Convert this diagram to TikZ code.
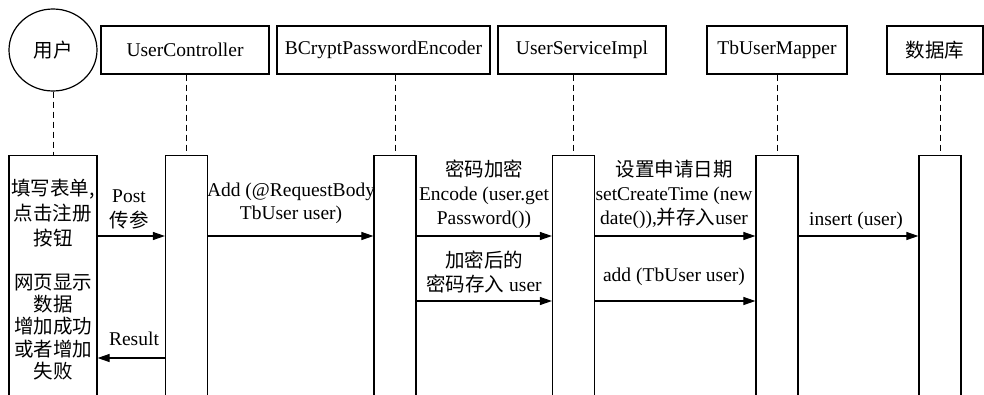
\documentclass[tikz,border=0pt]{standalone}
\usepackage{fontspec}
\setmainfont{Liberation Serif}
\newfontfamily\cjk{Noto Sans CJK SC}
\newcommand\zh[1]{{\cjk #1}}
\usetikzlibrary{arrows.meta,shapes.geometric}
\begin{document}
\begin{tikzpicture}[x=1pt,y=-1pt,
  every node/.style={font=\fontsize{19.5}{24}\selectfont},
  hdr/.style={draw, line width=1.2pt, minimum height=48pt, inner sep=0pt},
  act/.style={draw, line width=1.2pt, anchor=north, minimum width=42pt, minimum height=260pt, inner sep=0pt},
  life/.style={line width=1pt, dash pattern=on 6pt off 4pt},
  msg/.style={line width=1.1pt, -{Triangle[length=12pt,width=8pt]}},
  lbl/.style={align=center, inner sep=0pt}
]
\path[use as bounding box, clip] (0,0) rectangle (984,394);

% headers
\node[draw, ellipse, line width=1.2pt, minimum width=88pt, minimum height=82pt, inner sep=0pt] (u) at (53,50) {\zh{用户}};
\node[hdr, minimum width=168pt] (h1) at (185,50) {UserController};
\node[hdr, minimum width=213pt] (h2) at (383.5,50) {BCryptPasswordEncoder};
\node[hdr, minimum width=168pt] (h3) at (582,50) {UserServiceImpl};
\node[hdr, minimum width=140pt] (h4) at (777,50) {TbUserMapper};
\node[hdr, minimum width=96pt] (h5) at (935,50) {\zh{数据库}};

% activation boxes
\node[act, minimum width=88pt] (a0) at (53,155) {};
\node[act] (a1) at (186.5,155) {};
\node[act] (a2) at (395,155) {};
\node[act] (a3) at (573.5,155) {};
\node[act] (a4) at (777,155) {};
\node[act] (a5) at (940,155) {};

% lifelines
\draw[life] (u.south) -- (a0.north);
\draw[life] (a1.north |- h1.south) -- (a1.north);
\draw[life] (a2.north |- h2.south) -- (a2.north);
\draw[life] (a3.north |- h3.south) -- (a3.north);
\draw[life] (a4.north |- h4.south) -- (a4.north);
\draw[life] (a5.north |- h5.south) -- (a5.north);

% texts in user box
\node[lbl, font=\fontsize{19.5}{25}\selectfont\cjk] (t1) at (53,213) {填写表单,\\点击注册\\按钮};
\node[lbl, font=\fontsize{19.5}{22.2}\selectfont\cjk] (t2) at (53,327) {网页显示\\数据\\增加成功\\或者增加\\失败};

% messages
\draw[msg] (a0.east |- 0,236) -- (a1.west |- 0,236);
\draw[msg] (a1.east |- 0,236) -- (a2.west |- 0,236);
\draw[msg] (a2.east |- 0,236) -- (a3.west |- 0,236);
\draw[msg] (a3.east |- 0,236) -- (a4.west |- 0,236);
\draw[msg] (a4.east |- 0,236) -- (a5.west |- 0,236);
\draw[msg] (a2.east |- 0,301) -- (a3.west |- 0,301);
\draw[msg] (a3.east |- 0,301) -- (a4.west |- 0,301);
\draw[msg] (a1.west |- 0,358) -- (a0.east |- 0,358);

% labels
\node[lbl, font=\fontsize{19.5}{25}\selectfont] (l1) at (129,209) {Post\\\zh{传参}};
\node[lbl] (l2) at (134,339) {Result};
\node[lbl, font=\fontsize{19.5}{23}\selectfont] (l3) at (291,203) {Add (@RequestBody\\TbUser user)};
\node[lbl] (l4) at (484,194) {\zh{密码加密}\\Encode (user.get\\Password())};
\node[lbl] (l5) at (484,272) {\zh{加密后的}\\\zh{密码存入} user};
\node[lbl] (l6) at (674,194) {\zh{设置申请日期}\\setCreateTime (new\\date()),\zh{并存入}user};
\node[lbl] (l7) at (674,277) {add (TbUser user)};
\node[lbl] (l8) at (856,221) {insert (user)};
\end{tikzpicture}
\end{document}
